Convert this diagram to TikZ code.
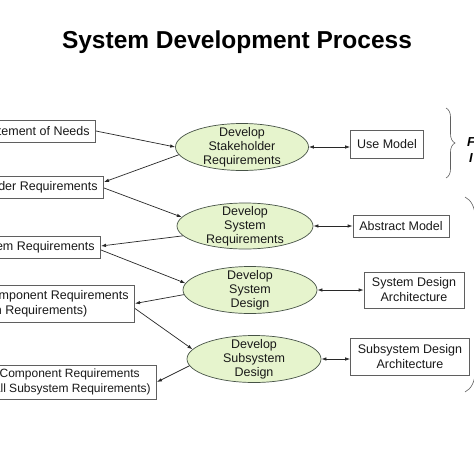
\documentclass[tikz,border=0pt]{standalone}
\usepackage{fontspec}
\setmainfont{Liberation Sans}
\usetikzlibrary{arrows.meta,positioning,shapes.geometric,decorations.pathreplacing}
\definecolor{ellgreen}{RGB}{230,244,205}
\definecolor{ellline}{RGB}{70,82,70}
\definecolor{boxline}{RGB}{95,95,95}
\definecolor{txtgray}{RGB}{25,25,25}
\definecolor{arrowgray}{RGB}{40,40,40}
\begin{document}
\begin{tikzpicture}[
    x=1pt, y=-1pt,
    reqbox/.style={rectangle, draw=boxline, fill=white, line width=0.7pt, inner xsep=6pt, inner ysep=2pt, minimum height=22pt, align=center, text=txtgray, font=\fontsize{12.5}{15}\selectfont},
    process/.style={ellipse, draw=ellline, fill=ellgreen, line width=0.7pt, inner sep=0pt, minimum width=134pt, minimum height=47pt},
    proctext/.style={align=center, inner sep=0pt, text=txtgray, font=\fontsize{12.5}{14}\selectfont},
    arrow/.style={-{Latex[length=5pt,width=3.5pt]}, line width=0.7pt, draw=arrowgray},
    dblarrow/.style={{Latex[length=5pt,width=3.5pt]}-{Latex[length=5pt,width=3.5pt]}, line width=0.7pt, draw=arrowgray},
    brace/.style={decorate, decoration={brace, amplitude=#1}, draw=boxline, line width=0.6pt}
  ]
    \clip (0,0) rectangle (474,474);
    \fill[white] (0,0) rectangle (474,474);
    \node[font=\bfseries\fontsize{24.5}{28}\selectfont] (title) at (237,42) {System Development Process};

    % requirement chain on the left
    \node[reqbox, anchor=east] (need) at (96,131) {Statement of Needs};
    \node[reqbox, anchor=east] (stake) at (104,187) {Stakeholder Requirements};
    \node[reqbox, anchor=east] (sysreq) at (101,247) {System Requirements};
    \node[reqbox, anchor=east, minimum height=37pt] (subreq) at (135,303.5) {Subsystem/Component Requirements\\(Design Requirements)};
    \node[reqbox, anchor=east, minimum height=34pt, font=\fontsize{12}{15}\selectfont] (compreq) at (157,382) {Component Requirements\\(All Subsystem Requirements)};

    % development steps
    \node[process, minimum width=133pt, label={[proctext]center:Develop\\Stakeholder\\Requirements}] (e1) at (242,147) {};
    \node[process, minimum width=136pt, minimum height=46pt, label={[proctext]center:Develop\\System\\Requirements}] (e2) at (245,226) {};
    \node[process, label={[proctext]center:Develop\\System\\Design}] (e3) at (250,290) {};
    \node[process, label={[proctext]center:Develop\\Subsystem\\Design}] (e4) at (254,359) {};

    % products on the right
    \node[reqbox, minimum height=28pt, minimum width=73pt] (use) at (387,144) {Use Model};
    \node[reqbox, minimum width=96pt] (abstract) at (401,226) {Abstract Model};
    \node[reqbox, minimum width=100pt, minimum height=36pt] (sysarch) at (414,290) {System Design\\Architecture};
    \node[reqbox, minimum width=119pt, minimum height=37pt] (subarch) at (410,357) {Subsystem Design\\Architecture};

    \draw[arrow] (need.east) -- (e1.west);
    \draw[arrow] (e1.187) -- ([yshift=5pt]stake.east);
    \draw[arrow] ([yshift=-1pt]stake.east) -- (e2.172);
    \draw[arrow] (e2.189) -- ([yshift=1pt]sysreq.east);
    \draw[arrow] ([yshift=-3pt]sysreq.east) -- (e3.174);
    \draw[arrow] (e3.184) -- (subreq.east);
    \draw[arrow] ([yshift=-5pt]subreq.east) -- (e4.171);
    \draw[arrow] (e4.186) -- (compreq.east);

    \draw[dblarrow] (e1.east) -- (e1.east -| use.west);
    \draw[dblarrow] (e2.east) -- (e2.east -| abstract.west);
    \draw[dblarrow] (e3.east) -- (e3.east -| sysarch.west);
    \draw[dblarrow] (e4.east) -- (e4.east -| subarch.west);

    % braces at the right edge
    \draw[brace=9pt] (446,108) -- (446,178);
    \draw[brace=20pt] (465,197) -- (465,392);
    \node[anchor=west, inner sep=0pt, font=\bfseries\itshape\fontsize{13}{15}\selectfont] (probf) at (467,142) {F};
    \node[anchor=west, inner sep=0pt, font=\bfseries\itshape\fontsize{13}{15}\selectfont] (probi) at (469,158) {I};
  \end{tikzpicture}
\end{document}
